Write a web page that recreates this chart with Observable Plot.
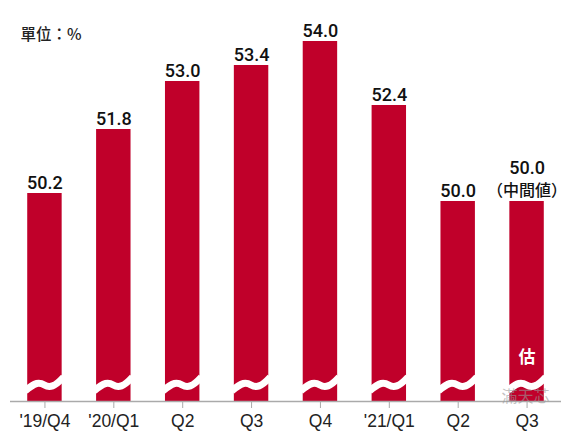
<!DOCTYPE html>
<html>
<head>
<meta charset="utf-8">
<script src="https://cdn.jsdelivr.net/npm/d3@7"></script>
<script src="https://cdn.jsdelivr.net/npm/@observablehq/plot@0.6"></script>
<style>
  html, body { margin: 0; padding: 0; background: #fff; }
  #chart { width: 568px; height: 433px; position: relative; }
</style>
</head>
<body>
<div id="chart"></div>
<script>
const categories = ["'19/Q4", "'20/Q1", "Q2", "Q3", "Q4", "'21/Q1", "Q2 ", "Q3 "];
const tickLabels = ["'19/Q4", "'20/Q1", "Q2", "Q3", "Q4", "'21/Q1", "Q2", "Q3"];
const values = [50.2, 51.8, 53.0, 53.4, 54.0, 52.4, 50.0, 50.0];
const valueLabels = ["50.2", "51.8", "53.0", "53.4", "54.0", "52.4", "50.0", "50.0"];
const noteLabel = "（中間値）";
const axisBase = 45; // broken axis start
const unitLabel = "單位：%";
const estimateLabel = "估";
const estimateCategory = "Q3 ";
const watermark = "滿天芯";

const data = categories.map((c, i) => ({cat: c, v: values[i], label: valueLabels[i], note: c === estimateCategory}));
const plain = data.filter((d) => !d.note);
const noted = data.filter((d) => d.note);
const RED = "#c0002a";

function waves(index, scales) {
  const x = scales.x, y = scales.y;
  const bw = typeof x.bandwidth === "function" ? x.bandwidth() : (x.bandwidth ?? 34);
  const y0 = y(axisBase);
  const g = d3.create("svg:g");
  for (const c of categories) {
    const xl = x(c);
    const s = bw / 34;
    const p = `M${xl - 2},${y0 - 10} C${xl + 8 * s},${y0 - 19} ${xl + 12 * s},${y0 - 19} ${xl + 17 * s},${y0 - 16} S${xl + 27 * s},${y0 - 14} ${xl + bw + 2},${y0 - 24}`;
    g.append("path").attr("d", p).attr("fill", "none").attr("stroke", "#fff").attr("stroke-width", 7);
  }
  return g.node();
}

const labelStyle = {fontSize: 18, fontWeight: 500, fill: "#111", fontFamily: "Roboto, 'Noto Sans CJK TC', sans-serif"};

const plot = Plot.plot({
  width: 568,
  height: 433,
  marginLeft: 10,
  marginRight: 7,
  marginTop: 41,
  marginBottom: 32,
  style: {fontFamily: "'Liberation Sans', Arial, sans-serif", background: "#fff"},
  x: {type: "band", domain: categories, paddingInner: 0.5, paddingOuter: 0.25, round: false, axis: null, label: null},
  y: {domain: [axisBase, 54], axis: null},
  marks: [
    Plot.barY(data, {x: "cat", y1: axisBase, y2: "v", fill: RED}),
    waves,
    Plot.ruleY([axisBase], {stroke: "#aaa", strokeWidth: 1.5}),
    Plot.axisX({
      tickSize: 7, tickPadding: 6, stroke: "#aaa", fontSize: 17.5, fill: "#222", label: null,
      tickFormat: (d) => tickLabels[categories.indexOf(d)]
    }),
    Plot.text(plain, {x: "cat", y: "v", text: "label", lineAnchor: "bottom", dy: -5, ...labelStyle}),
    Plot.text(noted, {x: "cat", y: "v", text: "label", lineAnchor: "bottom", dy: -28, ...labelStyle}),
    Plot.text(noted, {
      x: "cat", y: "v", text: () => noteLabel, lineAnchor: "bottom", dy: -6,
      fontSize: 16, fontWeight: 500, fill: "#111",
      fontFamily: "'Noto Sans CJK TC', sans-serif"
    }),
    Plot.text([estimateCategory], {
      x: (d) => d, y: axisBase, dy: -44, text: () => estimateLabel,
      fill: "#fff", fontSize: 17, fontWeight: "bold",
      fontFamily: "'Noto Sans CJK TC', sans-serif"
    }),
    Plot.text([unitLabel], {
      frameAnchor: "top-left", dx: 10, dy: -13, text: (d) => d,
      fontSize: 15.5, fontWeight: 500, fill: "#222", textAnchor: "start",
      fontFamily: "'Noto Sans CJK TC', sans-serif"
    }),
    Plot.text([watermark], {
      frameAnchor: "bottom-right", dx: -12, dy: 0, text: (d) => d,
      fontSize: 16, fill: "#999", fillOpacity: 0.6, textAnchor: "end",
      fontFamily: "'Noto Sans CJK TC', sans-serif"
    })
  ]
});
document.getElementById("chart").appendChild(plot);
</script>
</body>
</html>
